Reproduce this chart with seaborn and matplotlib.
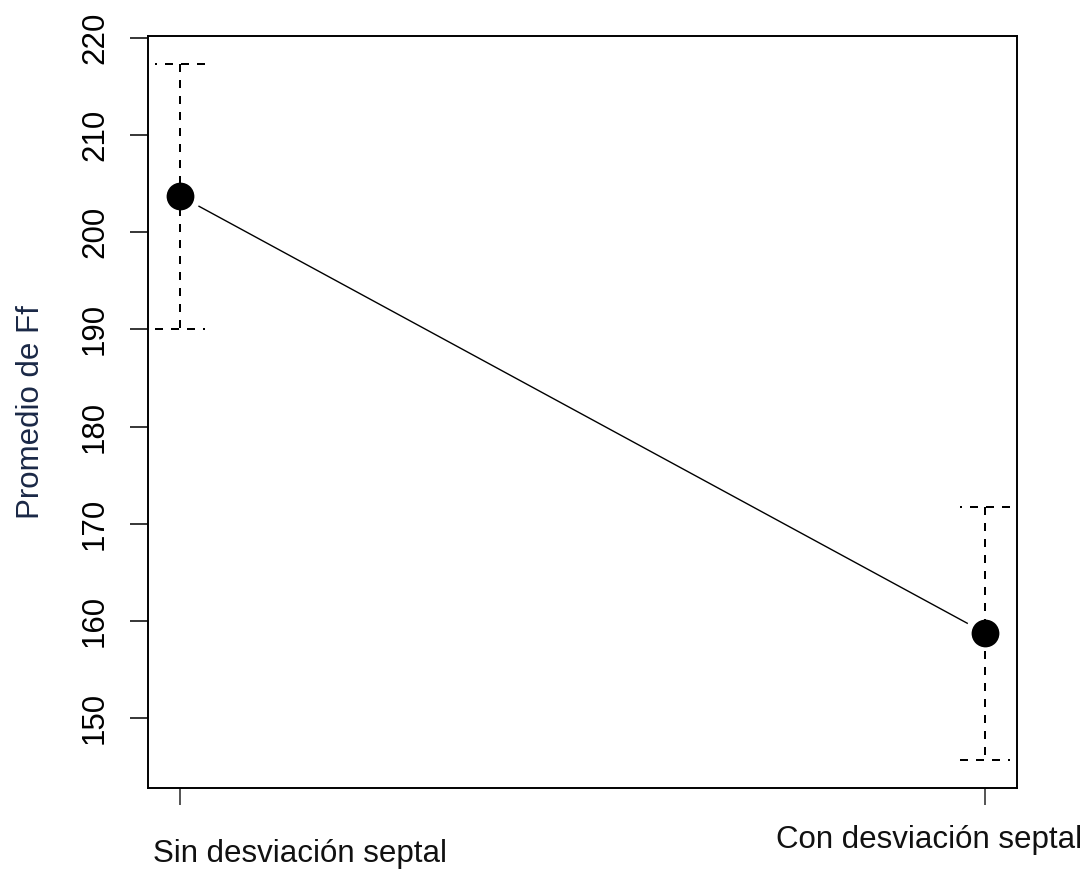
import matplotlib
matplotlib.use("Agg")
import matplotlib.pyplot as plt
import seaborn as sns
import pandas as pd

# Mean Ff per group with the limits of its interval
groups = ["Sin desviación septal", "Con desviación septal"]
means = [203.7, 158.8]
lower = [190.0, 145.7]
upper = [217.3, 171.7]
y_ticks = [150, 160, 170, 180, 190, 200, 210, 220]
y_label = "Promedio de Ff"

sns.set_theme(style="ticks")
plt.rcParams["font.family"] = ["Liberation Sans", "DejaVu Sans"]
plt.rcParams["axes.linewidth"] = 1.4
plt.rcParams["xtick.major.width"] = 1.1
plt.rcParams["ytick.major.width"] = 1.1

fig = plt.figure(figsize=(10.9, 8.75), dpi=100)
ax = fig.add_axes([0.1358, 0.0994, 0.7972, 0.8595])

df = pd.DataFrame({"grupo": groups, "ff": means})

# points joined by a line; the white ring leaves a gap in the line around each point
sns.pointplot(data=df, x="grupo", y="ff", order=groups, color="black",
              errorbar=None, markers="o", linestyles="-", ax=ax,
              markersize=24.6, markeredgecolor="white", markeredgewidth=4.6,
              linewidth=1.0)

# dashed interval bars with dashed caps
dash = (0, (4, 4))
lw = 1.44
cap = 0.031
xs = list(range(len(groups)))
ax.vlines(xs, upper, lower, colors="black", linestyles=dash, linewidth=lw, zorder=5)
ax.hlines(upper, [x + cap for x in xs], [x - cap for x in xs], colors="black",
          linestyles=dash, linewidth=lw, zorder=5)
ax.hlines(lower, [x - cap for x in xs], [x + cap for x in xs], colors="black",
          linestyles=dash, linewidth=lw, zorder=5)

span = max(upper) - min(lower)
ax.set_xlim(-0.04, 1.04)
ax.set_ylim(min(lower) - 0.04 * span, max(upper) + 0.04 * span)

ax.set_yticks(y_ticks)
ax.set_yticklabels([str(t) for t in y_ticks], rotation=90, va="center")
ax.tick_params(axis="y", length=13, pad=14.4, labelsize=22.5, colors="black")
ax.tick_params(axis="x", length=12.5, labelsize=22.5)

# category names placed under their ticks at staggered heights
ax.set_xticks(xs)
ax.set_xticklabels(["", ""])
ax.set_xlabel("")
label_place = [(-27, -74, "left"), (97, -60, "right")]
for x, name, (dx, dy, ha) in zip(xs, groups, label_place):
    ax.annotate(name, xy=(x, 0), xycoords=("data", "axes fraction"),
                xytext=(dx, dy), textcoords="offset pixels",
                ha=ha, va="baseline", fontsize=22.5, color="#111111")

ax.set_ylabel(y_label, fontsize=22.5, color="#1a2846")
ax.yaxis.set_label_coords(-0.1174, 0.5)

for s in ax.spines.values():
    s.set_visible(True)
    s.set_color("black")

fig.savefig("out.png", dpi=100, facecolor="white")
